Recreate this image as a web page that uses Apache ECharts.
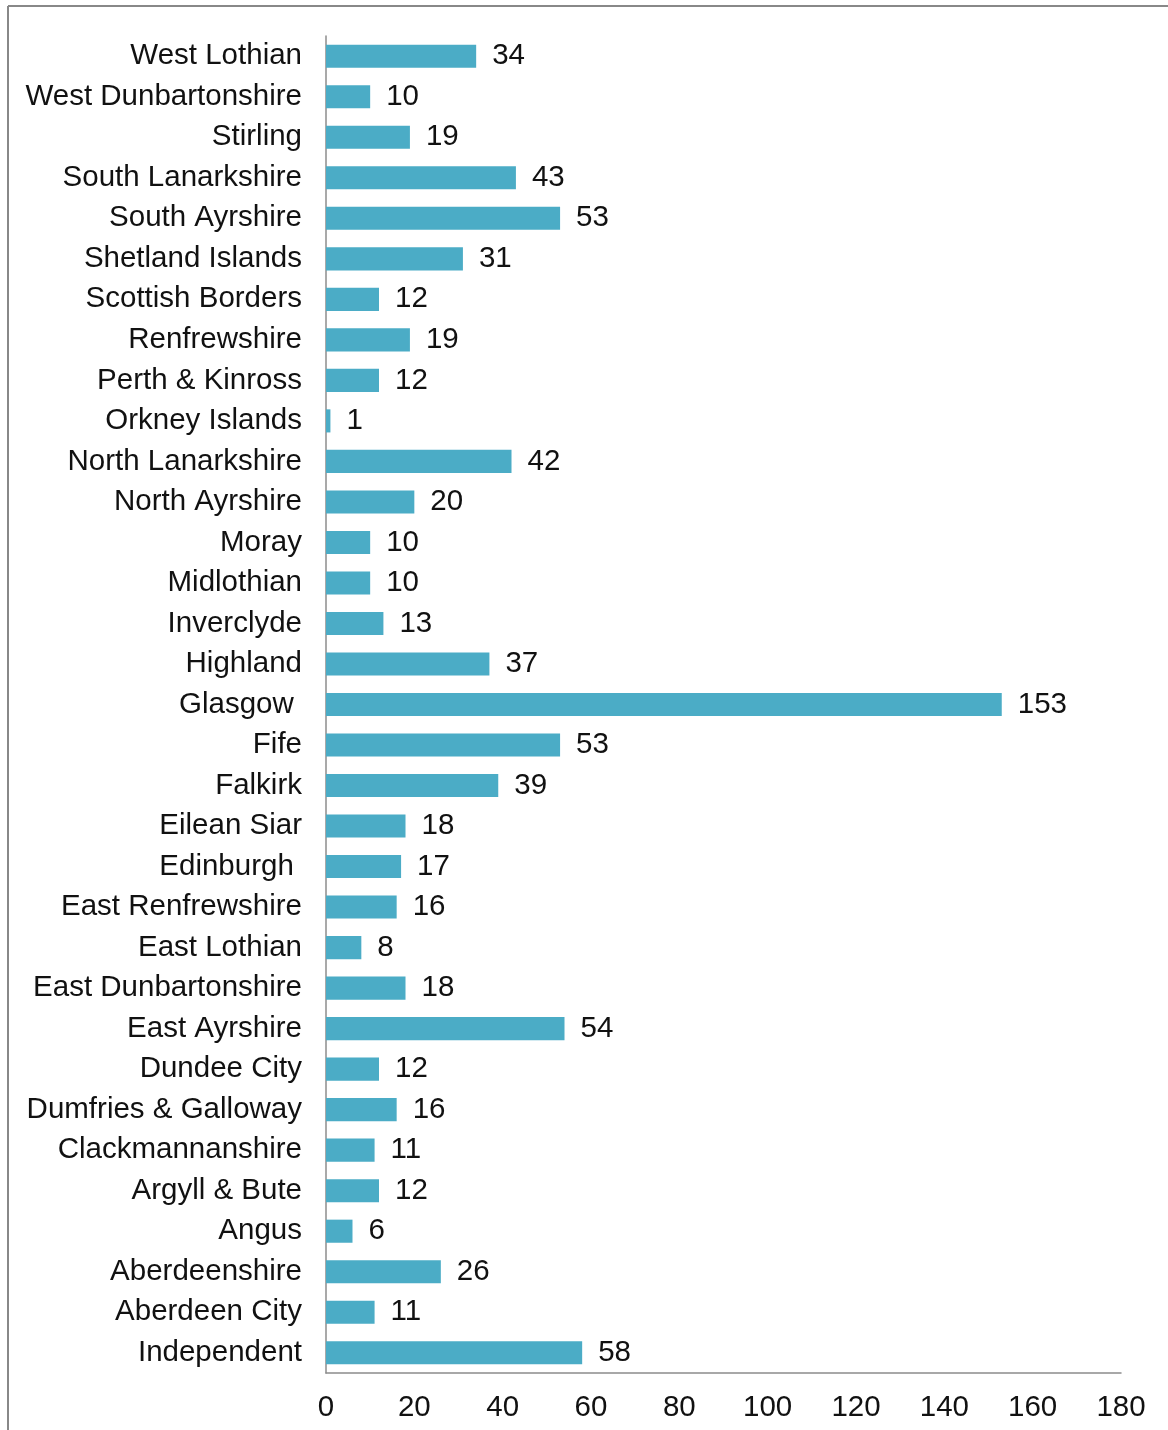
<!DOCTYPE html>
<html>
<head>
<meta charset="utf-8">
<script src="https://cdn.jsdelivr.net/npm/echarts@6/dist/echarts.min.js"></script>
<style>
  html, body { margin: 0; padding: 0; background: #fff; }
  #chart { width: 1168px; height: 1430px; }
</style>
</head>
<body>
<div id="chart"></div>
<script>
// Council areas, listed top to bottom as drawn
const categories = [
  'West Lothian', 'West Dunbartonshire', 'Stirling', 'South Lanarkshire',
  'South Ayrshire', 'Shetland Islands', 'Scottish Borders', 'Renfrewshire',
  'Perth & Kinross', 'Orkney Islands', 'North Lanarkshire', 'North Ayrshire',
  'Moray', 'Midlothian', 'Inverclyde', 'Highland', 'Glasgow ', 'Fife',
  'Falkirk', 'Eilean Siar', 'Edinburgh ', 'East Renfrewshire', 'East Lothian',
  'East Dunbartonshire', 'East Ayrshire', 'Dundee City', 'Dumfries & Galloway',
  'Clackmannanshire', 'Argyll & Bute', 'Angus', 'Aberdeenshire',
  'Aberdeen City', 'Independent'
];

const values = [
  34, 10, 19, 43,
  53, 31, 12, 19,
  12, 1, 42, 20,
  10, 10, 13, 37, 153, 53,
  39, 18, 17, 16, 8,
  18, 54, 12, 16,
  11, 12, 6, 26,
  11, 58
];

// Value axis ticks
const xTicks = [0, 20, 40, 60, 80, 100, 120, 140, 160, 180];

const FONT = '"Liberation Sans", Arial, sans-serif';
const chart = echarts.init(document.getElementById('chart'), null, { renderer: 'canvas' });

chart.setOption({
  animation: false,
  backgroundColor: '#ffffff',
  graphic: [
    { type: 'line', shape: { x1: 8, y1: 6, x2: 1168, y2: 6 }, style: { stroke: '#888888', lineWidth: 2 } },
    { type: 'line', shape: { x1: 8, y1: 6, x2: 8, y2: 1430 }, style: { stroke: '#888888', lineWidth: 2 } }
  ],
  grid: { left: 326, right: 47, top: 36, bottom: 57, containLabel: false },
  xAxis: {
    type: 'value',
    min: xTicks[0],
    max: xTicks[xTicks.length - 1],
    interval: 20,
    axisLine: { show: true, lineStyle: { color: '#8c8c8c', width: 1.5 } },
    axisTick: { show: false },
    splitLine: { show: false },
    axisLabel: { color: '#111', fontFamily: FONT, fontSize: 29.5, margin: 20 }
  },
  yAxis: {
    type: 'category',
    data: categories,
    inverse: true,
    axisLine: { show: true, lineStyle: { color: '#8c8c8c', width: 1.5 } },
    axisTick: { show: false },
    axisLabel: { color: '#111', fontFamily: FONT, fontSize: 29.5, margin: 24, interval: 0 }
  },
  series: [{
    type: 'bar',
    data: values,
    barWidth: '57%',
    itemStyle: { color: '#4BACC6' },
    label: {
      show: true,
      position: 'right',
      distance: 16,
      color: '#111',
      fontFamily: FONT,
      fontSize: 29.5
    }
  }]
});
</script>
</body>
</html>
